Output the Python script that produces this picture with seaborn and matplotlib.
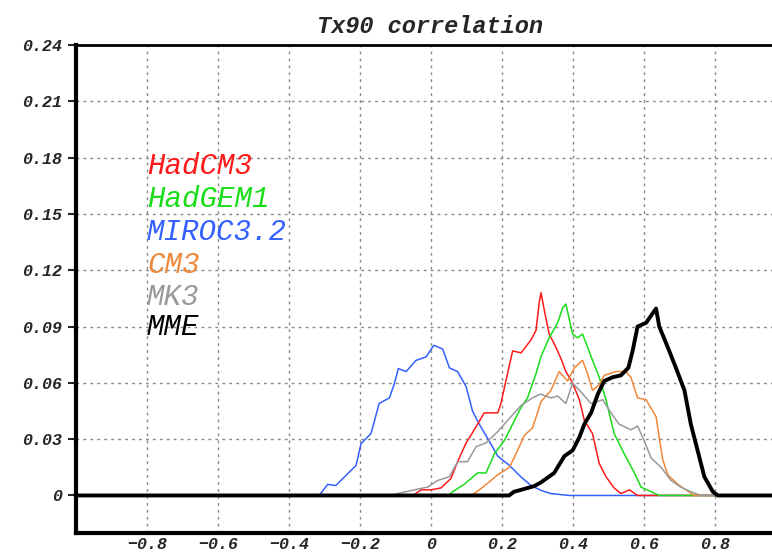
import pandas as pd
import matplotlib
matplotlib.use('Agg')
import matplotlib.pyplot as plt
import seaborn as sns

sns.set_style('white')

# model names and colours (legend order)
models = ['HadCM3', 'HadGEM1', 'MIROC3.2', 'CM3', 'MK3', 'MME']
colors = ['#ff1a1a', '#19dd19', '#3360ff', '#f0883a', '#999999', '#000000']

# correlation bins (x) and frequencies (y)
had3_x = [-1.0, -0.05, -0.028, 0.0, 0.028, 0.056, 0.075, 0.099, 0.122, 0.150, 0.188, 0.197, 0.211,
          0.230, 0.254, 0.282, 0.296, 0.305, 0.310, 0.321, 0.333, 0.352, 0.366, 0.380, 0.399, 0.418,
          0.432, 0.455, 0.474, 0.493, 0.516, 0.535, 0.559, 0.582, 1.0]
had3_y = [0, 0, 0.003, 0.003, 0.004, 0.009, 0.018, 0.028, 0.035, 0.044, 0.044, 0.049, 0.061,
          0.077, 0.076, 0.083, 0.088, 0.103, 0.108, 0.097, 0.086, 0.079, 0.073, 0.066, 0.060, 0.051,
          0.040, 0.033, 0.017, 0.010, 0.004, 0.001, 0.003, 0, 0]

gem1_x = [-1.0, 0.05, 0.061, 0.094, 0.131, 0.155, 0.169, 0.178, 0.206, 0.230, 0.254, 0.272, 0.296,
          0.310, 0.333, 0.357, 0.371, 0.380, 0.399, 0.413, 0.427, 0.451, 0.474, 0.493, 0.516, 0.545,
          0.573, 0.592, 0.620, 0.643, 1.0]
gem1_y = [0, 0, 0.002, 0.006, 0.012, 0.012, 0.018, 0.022, 0.029, 0.038, 0.047, 0.052, 0.065,
          0.074, 0.084, 0.092, 0.100, 0.102, 0.086, 0.084, 0.086, 0.074, 0.063, 0.051, 0.033, 0.022,
          0.012, 0.0044, 0.002, 0, 0]

miroc_x = [-1.0, -0.315, -0.291, -0.268, -0.244, -0.211, -0.197, -0.169, -0.146, -0.117, -0.103,
           -0.092, -0.070, -0.042, -0.014, 0.008, 0.033, 0.052, 0.075, 0.099, 0.117, 0.136, 0.164,
           0.188, 0.221, 0.254, 0.282, 0.31, 0.338, 0.39, 1.0]
miroc_y = [0, 0, 0.0059, 0.0053, 0.0098, 0.016, 0.0276, 0.033, 0.049, 0.052, 0.0596,
           0.0676, 0.066, 0.072, 0.0738, 0.080, 0.078, 0.068, 0.066, 0.058, 0.045, 0.038, 0.029,
           0.021, 0.016, 0.0098, 0.0053, 0.0027, 0.001, 0, 0]

cm3_x = [-1.0, 0.11, 0.122, 0.150, 0.188, 0.221, 0.244, 0.263, 0.286, 0.30, 0.31, 0.338, 0.361,
         0.385, 0.404, 0.427, 0.441, 0.455, 0.474, 0.488, 0.521, 0.549, 0.563, 0.582, 0.606, 0.634,
         0.643, 0.653, 0.667, 0.695, 0.718, 0.742, 1.0]
cm3_y = [0, 0, 0.001, 0.005, 0.011, 0.015, 0.024, 0.032, 0.036, 0.044, 0.050, 0.056, 0.066,
         0.061, 0.068, 0.072, 0.065, 0.056, 0.059, 0.064, 0.066, 0.066, 0.063, 0.052, 0.051, 0.042,
         0.031, 0.019, 0.011, 0.006, 0.003, 0, 0]

mk3_x = [-1.0, -0.11, -0.094, -0.047, -0.009, 0.019, 0.052, 0.075, 0.103, 0.127, 0.155, 0.188,
         0.216, 0.254, 0.286, 0.308, 0.338, 0.357, 0.380, 0.399, 0.423, 0.451, 0.484, 0.507, 0.530,
         0.563, 0.582, 0.601, 0.620, 0.648, 0.676, 0.704, 0.732, 0.761, 1.0]
mk3_y = [0, 0, 0.001, 0.003, 0.0045, 0.008, 0.010, 0.018, 0.018, 0.026, 0.028, 0.034,
         0.040, 0.048, 0.052, 0.054, 0.052, 0.053, 0.049, 0.060, 0.055, 0.049, 0.051, 0.044, 0.038,
         0.035, 0.037, 0.029, 0.020, 0.015, 0.008, 0.0044, 0.002, 0, 0]

mme_x = [-1.0, 0.22, 0.234, 0.254, 0.291, 0.31, 0.347, 0.376, 0.399, 0.418, 0.432, 0.451, 0.470,
         0.488, 0.512, 0.535, 0.556, 0.568, 0.582, 0.606, 0.634, 0.643, 0.667, 0.690, 0.714, 0.732,
         0.751, 0.770, 0.794, 0.808, 1.0]
mme_y = [0, 0, 0.002, 0.003, 0.005, 0.007, 0.012, 0.021, 0.024, 0.031, 0.038, 0.044, 0.054,
         0.061, 0.063, 0.064, 0.068, 0.077, 0.090, 0.092, 0.0996, 0.090, 0.079, 0.068, 0.056, 0.038,
         0.024, 0.010, 0.002, 0, 0]

xticks = [-0.8, -0.6, -0.4, -0.2, 0, 0.2, 0.4, 0.6, 0.8]
xlabels = ['\u22120.8', '\u22120.6', '\u22120.4', '\u22120.2', '0', '0.2', '0.4', '0.6', '0.8']
yticks = [0, 0.03, 0.06, 0.09, 0.12, 0.15, 0.18, 0.21, 0.24]
ylabels = ['0', '0.03', '0.06', '0.09', '0.12', '0.15', '0.18', '0.21', '0.24']

series = {
    'HadCM3': (had3_x, had3_y),
    'HadGEM1': (gem1_x, gem1_y),
    'MIROC3.2': (miroc_x, miroc_y),
    'CM3': (cm3_x, cm3_y),
    'MK3': (mk3_x, mk3_y),
    'MME': (mme_x, mme_y),
}

fig = plt.figure(figsize=(7.72, 5.59), dpi=100)
ax = fig.add_axes([0.0984, 0.0465, 0.9197, 0.873])

# grid first so the curves sit on top
for xv in xticks:
    ax.axvline(xv, color='#888888', lw=1.0, ls=(0, (2, 3)), zorder=0)
for yv in yticks[1:]:
    ax.axhline(yv, color='#888888', lw=1.0, ls=(0, (2, 3)), zorder=0)

draw_order = ['MIROC3.2', 'HadCM3', 'HadGEM1', 'CM3', 'MK3', 'MME']
for name in draw_order:
    xs, ys = series[name]
    c = colors[models.index(name)]
    lw = 2.8 if name == 'MME' else 1.1
    sns.lineplot(x=xs, y=ys, color=c, lw=lw, ax=ax, estimator=None, sort=False)

ax.set_xlim(-1.0, 1.0)
ax.set_ylim(-0.02, 0.24)
ax.set_xticks(xticks)
ax.set_xticklabels(xlabels)
ax.set_yticks(yticks)
ax.set_yticklabels(ylabels)

for lab in ax.get_xticklabels() + ax.get_yticklabels():
    lab.set_fontfamily('Liberation Mono')
    lab.set_fontstyle('italic')
    lab.set_fontweight('bold')
    lab.set_fontsize(12)

ax.tick_params(axis='y', direction='out', length=6, width=1.5, pad=4, left=True)
ax.tick_params(axis='x', length=0, pad=3)

for side in ['left', 'bottom']:
    ax.spines[side].set_linewidth(3)
    ax.spines[side].set_color('black')
ax.spines['top'].set_linewidth(2)
ax.spines['top'].set_color('black')
ax.spines['right'].set_visible(False)

fig.text(0.557, 0.953, 'Tx90 correlation', ha='center', va='center',
         family='Liberation Mono', style='italic', weight='bold', fontsize=17)

# coloured model names as the legend
legend_y = [166, 199, 232, 265, 297, 327]
for name, c, py in zip(models, colors, legend_y):
    fig.text(147 / 772, 1 - py / 559, name, color=c, ha='left', va='center',
             family='Liberation Mono', style='italic', fontsize=21)

fig.savefig('out.png', dpi=100)
